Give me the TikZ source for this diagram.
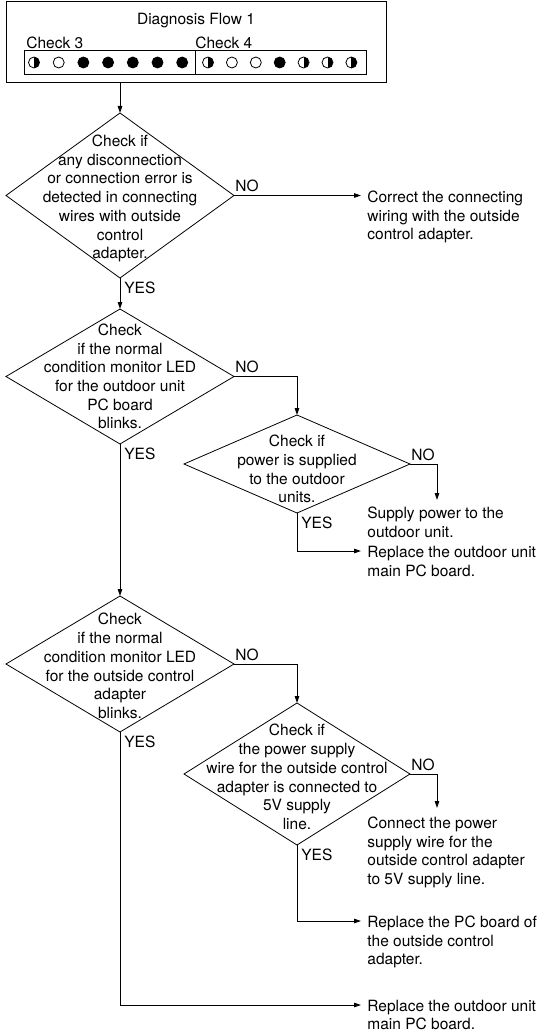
\documentclass[tikz,border=0pt]{standalone}
\usepackage{fontspec}
\setmainfont{TeX Gyre Heros}
\usetikzlibrary{arrows.meta,positioning,shapes.geometric}
\newcommand\flowfont{\fontsize{15.5}{18.7}\selectfont}
\tikzset{
  decision/.style={
    diamond, draw, inner sep=0pt, outer sep=0pt,
    minimum width=228pt
  },
  question/.style={align=center, inner sep=0pt, font=\flowfont},
  action/.style={
    align=left, anchor=north west, inner xsep=6pt, inner ysep=0pt,
    font=\flowfont
  },
  answer/.style={inner sep=1pt, font=\flowfont},
  panel/.style={draw, inner sep=0pt, outer sep=0pt},
  ledoff/.style={circle, draw, fill=white, minimum size=11pt, inner sep=0pt},
  ledon/.style={ledoff, fill=black},
  ledhalf/.style={ledoff,
    path picture={\fill[black] (path picture bounding box.south)
      rectangle (path picture bounding box.north east);}},
  flow/.style={-{Triangle[length=7pt,width=4.5pt]}}
}

\begin{document}
\begin{tikzpicture}[x=1pt,y=-1pt,line width=0.8pt]
  \useasboundingbox (0,0) rectangle (545,1032);
  % header with the LED pattern
  \node[panel, minimum width=380pt, minimum height=81pt] (head) at (196,41.5) {};
  \node[question] (title) at (196,21) {Diagnosis Flow 1};
  \node[answer, anchor=west] (chk3) at (25,43) {Check 3};
  \node[answer, anchor=west] (chk4) at (194,43) {Check 4};
  \node[panel, minimum width=171pt, minimum height=24pt] (strip3) at (110,62.5) {};
  \node[panel, minimum width=171pt, minimum height=24pt] (strip4) at (281,62.5) {};
  \foreach \st [count=\i from 0] in {ledhalf,ledoff,ledon,ledon,ledon,ledon,ledon}
    \node[\st] (ledA\i) at (34+24.7*\i,62.5) {};
  \foreach \st [count=\i from 0] in {ledhalf,ledoff,ledoff,ledon,ledhalf,ledhalf,ledhalf}
    \node[\st] (ledB\i) at (208+23.9*\i,62.5) {};

  % decisions
  \node[decision, minimum height=165pt] (d1) at (120,195.5) {};
  \node[decision, minimum height=135pt, below=31pt of d1] (d2) {};
  \node[decision, minimum height=136pt, below=152pt of d2] (d4) {};
  \node[decision, minimum width=226pt, minimum height=98pt] (d3) at (297,464) {};
  \node[decision, minimum width=226pt, minimum height=142pt] (d5) at (297,774) {};

  \node[question, yshift=-3pt] (q1) at (d1) {Check if\\any disconnection\\or connection error is\\detected in connecting\\wires with outside\\control\\adapter.};
  \node[question] (q2) at (d2) {Check\\if the normal\\condition monitor LED\\for the outdoor unit\\PC board\\blinks.};
  \node[question, yshift=-5pt] (q3) at (d3) {Check if\\power is supplied\\to the outdoor\\units.};
  \node[question, yshift=-2pt] (q4) at (d4) {Check\\if the normal\\condition monitor LED\\for the outside control\\adapter\\blinks.};
  \node[question, yshift=-3pt] (q5) at (d5) {Check if\\the power supply\\wire for the outside control\\adapter is connected to\\5V supply\\line.};

  % answers
  \node[answer, above right=2pt and 0pt of d1.east] (no1) {NO};
  \node[answer, above right=2pt and 0pt of d2.east] (no2) {NO};
  \node[answer, above right=2pt and 0pt of d3.east] (no3) {NO};
  \node[answer, above right=2pt and 0pt of d4.east] (no4) {NO};
  \node[answer, above right=2pt and 0pt of d5.east] (no5) {NO};
  \node[answer, below right=2.5pt and 3pt of d1.south] (yes1) {YES};
  \node[answer, below right=2.5pt and 3pt of d2.south] (yes2) {YES};
  \node[answer, below right=2.5pt and 3pt of d3.south] (yes3) {YES};
  \node[answer, below right=2.5pt and 3pt of d4.south] (yes4) {YES};
  \node[answer, below right=2.5pt and 3pt of d5.south] (yes5) {YES};

  % actions
  \node[action] (act1) at (361,190.5) {Correct the connecting\\wiring with the outside\\control adapter.};
  \node[action] (act2) at (361,506.5) {Supply power to the\\outdoor unit.};
  \node[action] (act3) at (361,546) {Replace the outdoor unit\\main PC board.};
  \node[action] (act4) at (361,816.5) {Connect the power\\supply wire for the\\outside control adapter\\to 5V supply line.};
  \node[action] (act5) at (361,915.5) {Replace the PC board of\\the outside control\\adapter.};
  \node[action] (act6) at (361,999.5) {Replace the outdoor unit\\main PC board.};

  \coordinate[right=27pt of d3.east] (d3no);
  \coordinate[below=36pt of d3no] (d3tip);
  \coordinate[below=38pt of d3.south] (d3yes);
  \coordinate[right=27pt of d5.east] (d5no);
  \coordinate[below=34pt of d5no] (d5tip);
  \coordinate[below=76pt of d5.south] (d5yes);
  \coordinate[below=273pt of d4.south] (d4yes);

  \draw[flow] (head.south -| d1.north) -- (d1.north);
  \draw[flow] (d1.east) -- (d1.east -| act1.west);
  \draw[flow] (d1.south) -- (d2.north);
  \draw[flow] (d2.east) -| (d3.north);
  \draw[flow] (d2.south) -- (d4.north);
  \draw[flow] (d3.east) -- (d3no) -- (d3tip);
  \draw[flow] (d3.south) -- (d3yes) -- (d3yes -| act3.west);
  \draw[flow] (d4.east) -| (d5.north);
  \draw[flow] (d4.south) -- (d4yes) -- (d4yes -| act6.west);
  \draw[flow] (d5.east) -- (d5no) -- (d5tip);
  \draw[flow] (d5.south) -- (d5yes) -- (d5yes -| act5.west);
\end{tikzpicture}
\end{document}
